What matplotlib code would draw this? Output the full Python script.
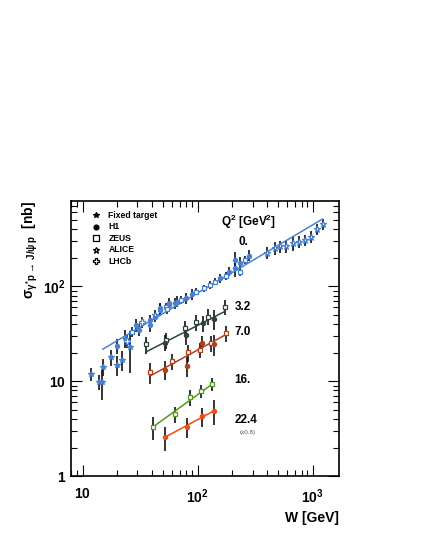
import numpy as np
import matplotlib
matplotlib.use('Agg')
import matplotlib.pyplot as plt
from matplotlib.ticker import LogLocator, FixedLocator, NullFormatter

plt.rcParams['font.family'] = ['Liberation Sans', 'DejaVu Sans']
plt.rcParams['mathtext.fontset'] = 'custom'
plt.rcParams['mathtext.rm'] = 'Liberation Sans'
plt.rcParams['mathtext.it'] = 'Liberation Sans:italic'
plt.rcParams['mathtext.bf'] = 'Liberation Sans:bold'

# Q2 = 0 photoproduction
w_ft = [11.9, 13.9, 14.8, 15.0, 17.8, 20.0, 22.1, 25.6]
s_ft = [11.9, 9.8, 9.8, 14.3, 18.0, 14.9, 16.8, 23.2]
e_ft = [1.8, 1.8, 3.5, 3.0, 3.5, 3.5, 4.0, 11.0]

w_h1_0 = [20.0, 23.2, 29.3, 30.9, 38.3, 38.8, 42.3, 46.8, 47.4, 56.3, 56.3, 63.1, 66.1,
          79.7, 90.0, 155, 187, 210, 210, 235, 278]
s_h1_0 = [23.6, 28.5, 39.3, 34.9, 39.3, 43.7, 48.1, 56.6, 59.0, 63.9, 66.5, 66.5, 69.2,
          75.2, 83.4, 122, 143, 190, 155, 178, 211]
e_h1_0 = [4, 6, 6, 5, 6, 6, 6, 8, 8, 8, 9, 9, 9, 10, 11, 14, 16, 40, 30, 25, 28]

w_zeus_0 = [26.8, 53.5, 54.1, 72.1, 97.3, 112.6, 127, 140.6, 175, 232, 256]
s_zeus_0 = [33.4, 61.3, 57.5, 72.1, 88.2, 95.7, 103.8, 112.3, 129, 143, 190]
e_zeus_0 = [4, 6, 6, 7, 8, 8, 9, 10, 12, 16, 20]

w_alice = [42.3, 401, 468, 524, 590, 675, 760, 851, 961, 1092, 1231]
s_alice = [50.1, 227, 252, 263, 263, 285, 296, 309, 334, 400, 455]
e_alice = [6, 35, 40, 40, 40, 50, 45, 40, 45, 55, 60]

w_lhcb = [24.5, 33.0]
s_lhcb = [26.5, 42.0]
e_lhcb = [4, 6]

# Q2 > 0 electroproduction
w_zeus_32 = [35.8, 53.5, 77.0, 97.4, 123, 172]
s_zeus_32 = [24.6, 26.9, 36.3, 41.6, 48.1, 61.3]
e_zeus_32 = [5, 5, 7, 8, 9, 11]
w_h1_32 = [51.6, 79.7, 111, 139]
s_h1_32 = [25.6, 30.9, 41.0, 45.5]
e_h1_32 = [5, 7, 8, 11]

w_zeus_70 = [38.7, 59.8, 82.4, 104, 130, 177]
s_zeus_70 = [12.4, 16.2, 20.1, 21.5, 25.3, 32.2]
e_zeus_70 = [3, 3, 4, 4, 5, 6]
w_h1_70 = [51.6, 80.7, 110, 139]
s_h1_70 = [13.2, 14.6, 25.3, 24.6]
e_h1_70 = [3, 3.5, 5, 6]

w_zeus_16 = [40.9, 63.9, 85.1, 107.6, 134]
s_zeus_16 = [3.3, 4.52, 6.76, 7.94, 9.34]
e_zeus_16 = [0.9, 0.9, 1.3, 1.3, 1.5]
w_h1_224 = [51.6, 80.7, 110, 139]
s_h1_224 = [2.56, 3.3, 4.26, 4.89]
e_h1_224 = [0.7, 0.8, 1.0, 1.4]

# power-law fits: (W_min, W_max, sigma at W_min, sigma at W_max)
fit_w = [[15.0, 1213], [36.2, 171.8], [38.7, 175], [40.9, 134], [51.6, 139]]
fit_s = [[21.8, 510], [20.6, 54.3], [11.4, 30.9], [3.3, 9.34], [2.56, 4.89]]
fit_col = ['#4a80d2', '#2f4440', '#b0401c', '#4d9a1c', '#f04a16']

q2_labels = ['0.', '3.2', '7.0', '16.', '22.4']
q2_label_x = [225, 210, 210, 210, 210]
q2_label_y = [296, 61, 33, 10.2, 3.9]

blue = '#4a80d2'

fig = plt.figure(figsize=(4.24, 5.48), dpi=100)
ax = fig.add_axes([0.167, 0.131, 0.633, 0.502])
ax.set_xscale('log')
ax.set_yscale('log')
ax.set_xlim(7.9, 1700)
ax.set_ylim(1, 790)


def pts(w, s, e, marker, mfc, mec, ms=3.5):
    ax.errorbar(w, s, yerr=e, fmt='none', ecolor='#111111', elinewidth=1.2, zorder=2)
    ax.plot(w, s, linestyle='none', marker=marker, ms=ms, mfc=mfc, mec=mec,
            mew=0.9, zorder=4)


for fw, fs, c in zip(fit_w, fit_s, fit_col):
    ax.plot(fw, fs, color=c, lw=1.1, zorder=3)

pts(w_ft, s_ft, e_ft, '*', blue, blue, 4)
pts(w_h1_0, s_h1_0, e_h1_0, 'o', blue, blue, 3)
pts(w_zeus_0, s_zeus_0, e_zeus_0, 's', 'white', blue, 3.5)
pts(w_alice, s_alice, e_alice, '*', 'white', blue, 5)
pts(w_lhcb, s_lhcb, e_lhcb, 'P', 'white', blue, 4)

pts(w_zeus_32, s_zeus_32, e_zeus_32, 's', 'white', '#2f4440', 3.5)
pts(w_h1_32, s_h1_32, e_h1_32, 'o', '#2f4440', '#2f4440', 3)
pts(w_zeus_70, s_zeus_70, e_zeus_70, 's', 'white', '#b0401c', 3.5)
pts(w_h1_70, s_h1_70, e_h1_70, 'o', '#b0401c', '#b0401c', 3)
pts(w_zeus_16, s_zeus_16, e_zeus_16, 's', 'white', '#4d9a1c', 3.5)
pts(w_h1_224, s_h1_224, e_h1_224, 'o', '#f04a16', '#f04a16', 3)

for lab, x, y in zip(q2_labels, q2_label_x, q2_label_y):
    ax.text(x, y, lab, fontsize=8.5, fontweight='bold', va='center', ha='left')
ax.text(232, 2.9, '(x0.8)', fontsize=4.5, color='#555555', va='center', ha='left')
ax.text(160, 480, r'$\mathbf{Q^{2}}$ [GeV$^{\mathbf{2}}$]', fontsize=8.5,
        fontweight='bold', va='center', ha='left')

# legend drawn by hand, ROOT style
leg_labels = ['Fixed target', 'H1', 'ZEUS', 'ALICE', 'LHCb']
leg_markers = [('*', 'k', 4), ('o', 'k', 3.5), ('s', 'white', 4), ('*', 'white', 5), ('P', 'white', 4)]
for i, (lab, (m, fc, ms)) in enumerate(zip(leg_labels, leg_markers)):
    yy = 0.948 - i * 0.0415
    ax.plot([0.095], [yy], transform=ax.transAxes, marker=m, ms=ms, mfc=fc,
            mec='k', mew=0.9, linestyle='none', clip_on=False)
    ax.text(0.14, yy, lab, transform=ax.transAxes, fontsize=6.2,
            fontweight='bold', va='center', ha='left')

ax.xaxis.set_major_locator(FixedLocator([10, 100, 1000]))
ax.set_xticklabels([r'$\mathbf{10}$', r'$\mathbf{10^{2}}$', r'$\mathbf{10^{3}}$'])
ax.yaxis.set_major_locator(FixedLocator([1, 10, 100]))
ax.set_yticklabels([r'$\mathbf{1}$', r'$\mathbf{10}$', r'$\mathbf{10^{2}}$'])
ax.xaxis.set_minor_locator(LogLocator(base=10, subs=np.arange(2, 10)))
ax.yaxis.set_minor_locator(LogLocator(base=10, subs=np.arange(2, 10)))
ax.xaxis.set_minor_formatter(NullFormatter())
ax.yaxis.set_minor_formatter(NullFormatter())
ax.tick_params(which='both', direction='in', top=True, right=True, labelsize=10)
ax.tick_params(which='major', length=8, width=0.8)
ax.tick_params(which='minor', length=4, width=0.8)
ax.tick_params(axis='x', pad=8)
for sp in ax.spines.values():
    sp.set_linewidth(1.2)

ax.set_xlabel('W [GeV]', fontsize=10, fontweight='bold', loc='right', labelpad=4)
ax.set_ylabel(r'$\mathbf{\sigma_{\gamma^{*}p\,\rightarrow\,J/\psi\,p}}$  [nb]', fontsize=10,
              fontweight='bold', loc='top', labelpad=2)

fig.savefig('out.png', dpi=100)
